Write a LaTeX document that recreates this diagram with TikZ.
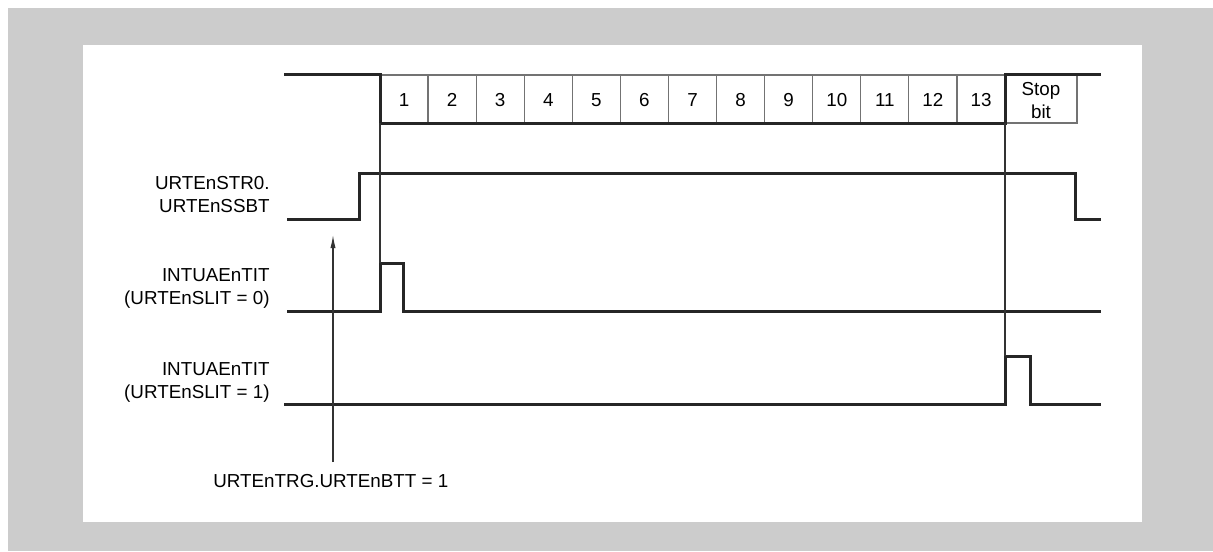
\documentclass[tikz,border=0pt]{standalone}
\usepackage{fontspec}
\setmainfont{Liberation Sans}
\usetikzlibrary{positioning,arrows.meta}
\definecolor{framegray}{HTML}{CCCCCC}

\begin{document}
\begin{tikzpicture}[
  x=0.5pt, y=-0.5pt,
  sig/.style={line width=1.5pt, black!85, line join=miter},
  cellline/.style={line width=0.6pt, black!55},
  guide/.style={line width=0.6pt, black!80},
  txt/.style={font=\fontsize{9.4}{11.5}\selectfont, inner sep=0pt},
  lbl/.style={txt, align=right, anchor=east},
  num/.style={txt, align=center}
]
\useasboundingbox (0,0) rectangle (1213,551);
% frame
\fill[framegray] (8,8) rectangle (1213,551);
\fill[white] (83,45) rectangle (1142,522);
% data bits 1..13
\foreach \i in {1,...,13}{
  \node[num] (bit\i) at ({380+(\i-0.5)*48.08},100) {\i};
  \draw[cellline] ({380+\i*48.08},75) -- ({380+\i*48.08},123);
}
\draw[cellline] (380,75) -- (1005,75);
% stop bit
\node[num] (stop) at (1041,101) {Stop\\bit};
\draw[cellline] (1005,123) -- (1077,123) -- (1077,75);
\draw[sig] (284,75) -- (380,75) -- (380,123) -- (1005,123) -- (1005,75) -- (1101,75);
% signal labels
\node[lbl] (ssbt)  at (270,195) {URTEnSTR0.\\URTEnSSBT};
\node[lbl] (tit0)  at (270,288) {INTUAEnTIT\\(URTEnSLIT = 0)};
\node[lbl] (tit1)  at (270,382) {INTUAEnTIT\\(URTEnSLIT = 1)};
% waveforms
\draw[sig] (287,219) -- (359,219) -- (359,173) -- (1075,173) -- (1075,219) -- (1101,219);
\draw[sig] (287,311) -- (380,311) -- (380,263) -- (403,263) -- (403,311) -- (1101,311);
\draw[sig] (284,404) -- (1005,404) -- (1005,356) -- (1030,356) -- (1030,404) -- (1101,404);
% guides
\draw[guide] (380,123) -- (380,263);
\draw[guide] (1005,123) -- (1005,356);
% trigger
\coordinate (trgfoot) at (333,462);
\coordinate (trgtip)  at (333,235);
\draw[guide, -{Latex[length=6.5pt, width=2.6pt]}] (trgfoot) -- (trgtip);
\node[txt, anchor=west] (btt) at (213,481) {URTEnTRG.URTEnBTT = 1};
\end{tikzpicture}
\end{document}
